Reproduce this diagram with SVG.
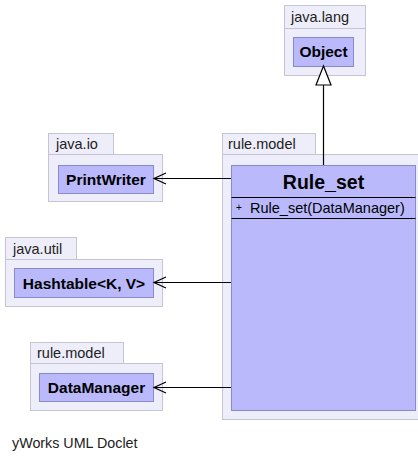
<svg xmlns="http://www.w3.org/2000/svg" width="418" height="457" viewBox="0 0 418 457">
<style>
.pkg{fill:#eeeefa;stroke:#c4c4d4;stroke-width:1}
.cls{fill:#b9b9fb;stroke:#8a8ac8;stroke-width:1}
.pl{font-family:"Liberation Sans",Arial,sans-serif;font-size:14.5px;fill:#222}
.cn{font-family:"Liberation Sans",Arial,sans-serif;font-size:15.5px;font-weight:bold;fill:#000;text-anchor:middle}
.big{font-family:"Liberation Sans",Arial,sans-serif;font-size:19.5px;font-weight:bold;fill:#000;text-anchor:middle}
.m{font-family:"Liberation Sans",Arial,sans-serif;font-size:14.5px;fill:#000}
.ln{fill:none;stroke:#000;stroke-width:1.2}
</style>
<rect width="418" height="457" fill="#fff"/>
<g id="java.lang.Object">
<rect class="pkg" x="284.5" y="5.5" width="81" height="23"/>
<rect class="pkg" x="284.5" y="28.5" width="81" height="47"/>
<text class="pl" x="291" y="22">java.lang</text>
<rect class="cls" x="293.5" y="37.5" width="60" height="29"/>
<text class="cn" x="323.5" y="57">Object</text>
</g>
<g id="java.io.PrintWriter">
<rect class="pkg" x="48.5" y="133.5" width="65" height="21"/>
<rect class="pkg" x="48.5" y="154.5" width="114" height="47"/>
<text class="pl" x="56" y="149">java.io</text>
<rect class="cls" x="58.5" y="165.5" width="95" height="28"/>
<text class="cn" x="106" y="185">PrintWriter</text>
</g>
<g id="java.util.Hashtable">
<rect class="pkg" x="5.5" y="237.5" width="71" height="22"/>
<rect class="pkg" x="5.5" y="259.5" width="157" height="47"/>
<text class="pl" x="13" y="254">java.util</text>
<rect class="cls" x="14.5" y="268.5" width="139" height="29"/>
<text class="cn" x="84" y="289">Hashtable&lt;K, V&gt;</text>
</g>
<g id="rule.model.DataManager">
<rect class="pkg" x="30.5" y="342.5" width="93" height="21"/>
<rect class="pkg" x="30.5" y="363.5" width="132" height="47"/>
<text class="pl" x="37" y="358">rule.model</text>
<rect class="cls" x="39.5" y="373.5" width="114" height="28"/>
<text class="cn" x="96.5" y="393">DataManager</text>
</g>
<g id="rule.model.Rule_set">
<rect class="pkg" x="222.5" y="133.5" width="93" height="21"/>
<rect class="pkg" x="222.5" y="154.5" width="197" height="265"/>
<text class="pl" x="228" y="149">rule.model</text>
<rect class="cls" x="231.5" y="165.5" width="184" height="245"/>
<line x1="231.5" y1="197.5" x2="415.5" y2="197.5" stroke="#000" stroke-width="1"/>
<line x1="231.5" y1="218.5" x2="415.5" y2="218.5" stroke="#000" stroke-width="1"/>
<text class="big" x="323.5" y="189">Rule_set</text>
<text class="m" x="236" y="211" style="font-size:10px">+</text>
<text class="m" x="250" y="213">Rule_set(DataManager)</text>
</g>
<g id="connectors">
<line class="ln" x1="323.5" y1="165" x2="323.5" y2="85"/>
<polygon points="323.5,66 316,85 331,85" fill="#fff" stroke="#000" stroke-width="1.2"/>
<line class="ln" x1="231" y1="178.5" x2="154" y2="178.5"/>
<polyline class="ln" points="166,173 154,178.5 166,184"/>
<line class="ln" x1="231" y1="282.5" x2="154" y2="282.5"/>
<polyline class="ln" points="166,277 154,282.5 166,288"/>
<line class="ln" x1="231" y1="387.5" x2="154" y2="387.5"/>
<polyline class="ln" points="166,382 154,387.5 166,393"/>
</g>
<text class="pl" x="12" y="448" style="font-size:14.3px">yWorks UML Doclet</text>
</svg>
